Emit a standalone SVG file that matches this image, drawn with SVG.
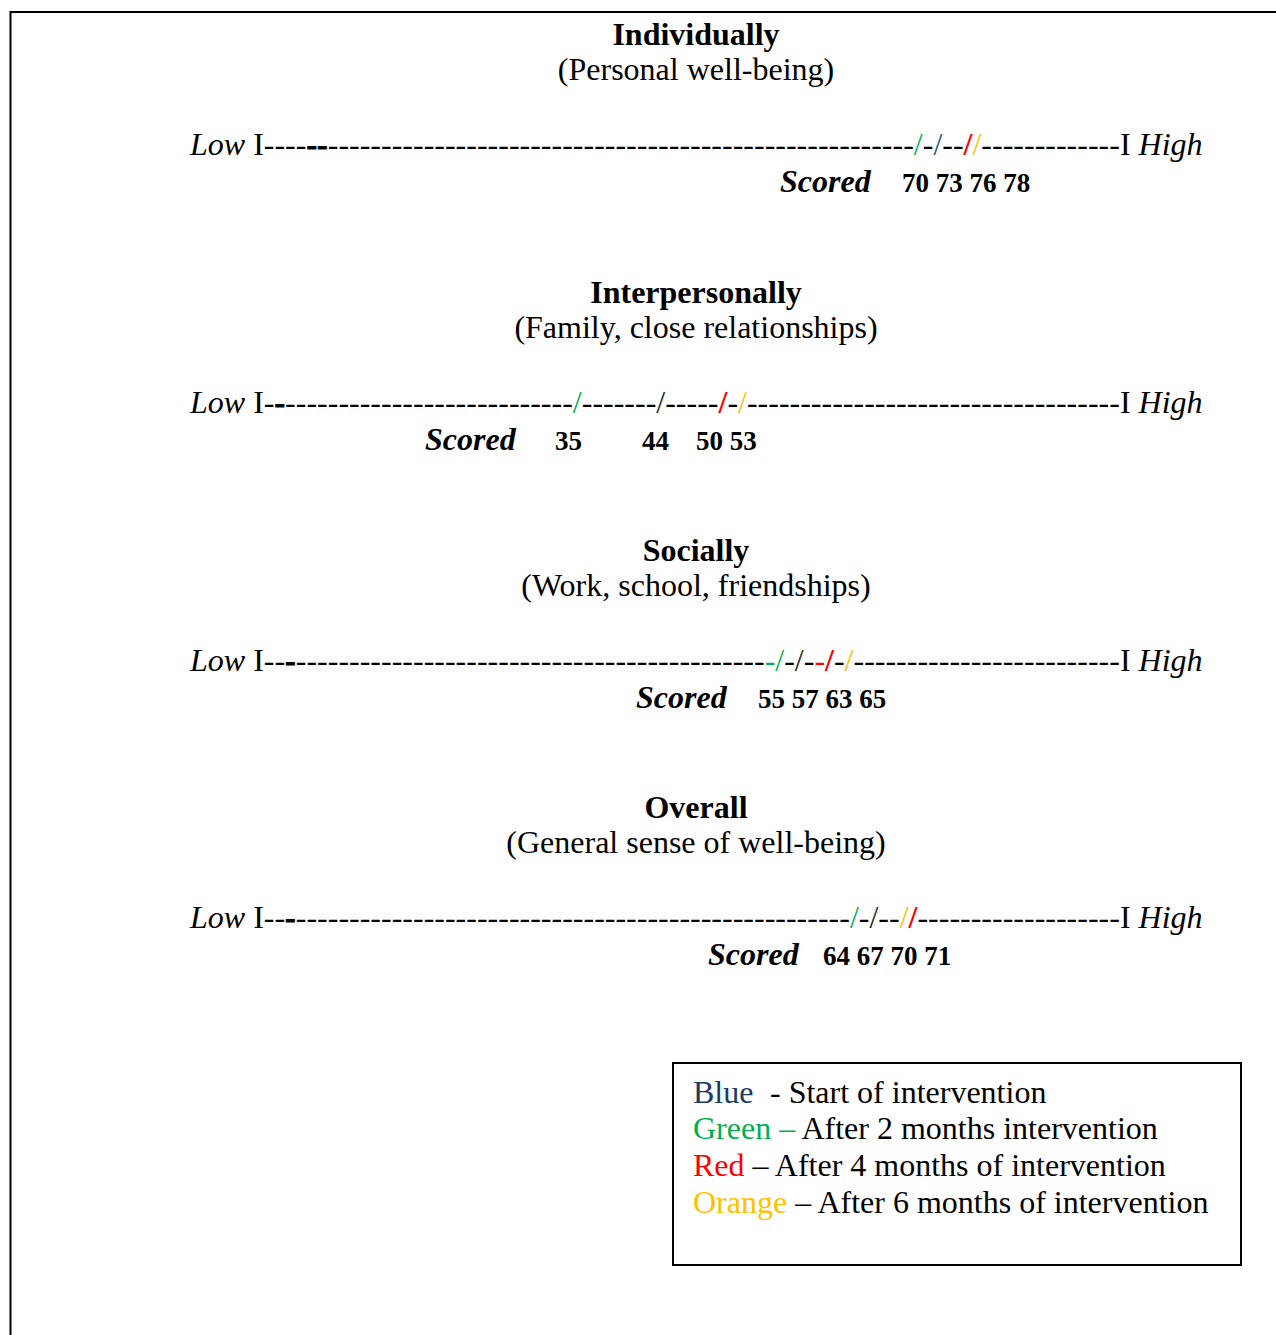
<svg xmlns="http://www.w3.org/2000/svg" width="1276" height="1335" viewBox="0 0 1276 1335">
  <style>
    text { font-family: "Liberation Serif", "Times New Roman", serif; font-size: 32px; fill: #000; }
    .title { font-weight: bold; text-anchor: middle; }
    .sub { text-anchor: middle; }
    .it { font-style: italic; }
    .bd { font-weight: bold; stroke: #000; stroke-width: 0.8; }
    .scored { font-weight: bold; font-style: italic; }
    .num { font-weight: bold; font-size: 27px; }
    .g { fill: #00B050; }
    .bl { fill: #2F4F8F; }
    .dk { fill: #222222; }
    .r { fill: #FF0000; font-weight: bold; }
    .rn { fill: #FF0000; }
    .o { fill: #FFC000; }
    .navy { fill: #1F3864; }
    .frame { stroke: #000; stroke-width: 2; fill: none; }
  </style>

  <!-- page frame (top and left edges) -->
  <path class="frame" d="M10.5 1335 V12 H1276"/>

  <!-- Individually -->
  <g id="individually">
    <text class="title" x="696" y="45">Individually</text>
    <text class="sub" x="696" y="80">(Personal well-being)</text>
    <text x="190" y="155"><tspan class="it">Low</tspan> I----<tspan class="bd">--</tspan>-------------------------------------------------------<tspan class="g">/</tspan>-<tspan class="bl">/</tspan>--<tspan class="r">/</tspan><tspan class="o">/</tspan>-------------I <tspan class="it">High</tspan></text>
    <text x="780" y="192"><tspan class="scored">Scored</tspan></text>
    <text class="num" x="902" y="192">70 73 76 78</text>
  </g>

  <!-- Interpersonally -->
  <g id="interpersonally">
    <text class="title" x="696" y="303">Interpersonally</text>
    <text class="sub" x="696" y="338">(Family, close relationships)</text>
    <text x="190" y="413"><tspan class="it">Low</tspan> I-<tspan class="bd">-</tspan>---------------------------<tspan class="g">/</tspan>-------<tspan class="dk">/</tspan>-----<tspan class="r">/</tspan>-<tspan class="o">/</tspan>-----------------------------------I <tspan class="it">High</tspan></text>
    <text x="425" y="450"><tspan class="scored">Scored</tspan></text>
    <text class="num" x="555" y="450">35</text>
    <text class="num" x="642" y="450">44</text>
    <text class="num" x="696" y="450">50 53</text>
  </g>

  <!-- Socially -->
  <g id="socially">
    <text class="title" x="696" y="561">Socially</text>
    <text class="sub" x="696" y="596">(Work, school, friendships)</text>
    <text x="190" y="671"><tspan class="it">Low</tspan> I--<tspan class="bd">-</tspan>--------------------------------------------<tspan class="g">-/</tspan>-<tspan class="dk">/</tspan>-<tspan class="rn">-</tspan><tspan class="r">/</tspan>-<tspan class="o">/</tspan>-------------------------I <tspan class="it">High</tspan></text>
    <text x="636" y="708"><tspan class="scored">Scored</tspan></text>
    <text class="num" x="758" y="708">55 57 63 65</text>
  </g>

  <!-- Overall -->
  <g id="overall">
    <text class="title" x="696" y="818">Overall</text>
    <text class="sub" x="696" y="853">(General sense of well-being)</text>
    <text x="190" y="928"><tspan class="it">Low</tspan> I--<tspan class="bd">-</tspan>----------------------------------------------------<tspan class="g">/</tspan>-<tspan class="dk">/</tspan>--<tspan class="o">/</tspan><tspan class="r">/</tspan>-------------------I <tspan class="it">High</tspan></text>
    <text x="708" y="965"><tspan class="scored">Scored</tspan></text>
    <text class="num" x="823" y="965">64 67 70 71</text>
  </g>

  <!-- legend -->
  <g id="legend">
    <rect class="frame" x="673" y="1063" width="568" height="202"/>
    <text x="693" y="1103"><tspan class="navy">Blue</tspan><tspan x="770">- Start of intervention</tspan></text>
    <text x="693" y="1139"><tspan class="g">Green –</tspan> After 2 months intervention</text>
    <text x="693" y="1176"><tspan class="rn">Red</tspan> – After 4 months of intervention</text>
    <text x="693" y="1213"><tspan class="o">Orange</tspan> – After 6 months of intervention</text>
  </g>
</svg>
